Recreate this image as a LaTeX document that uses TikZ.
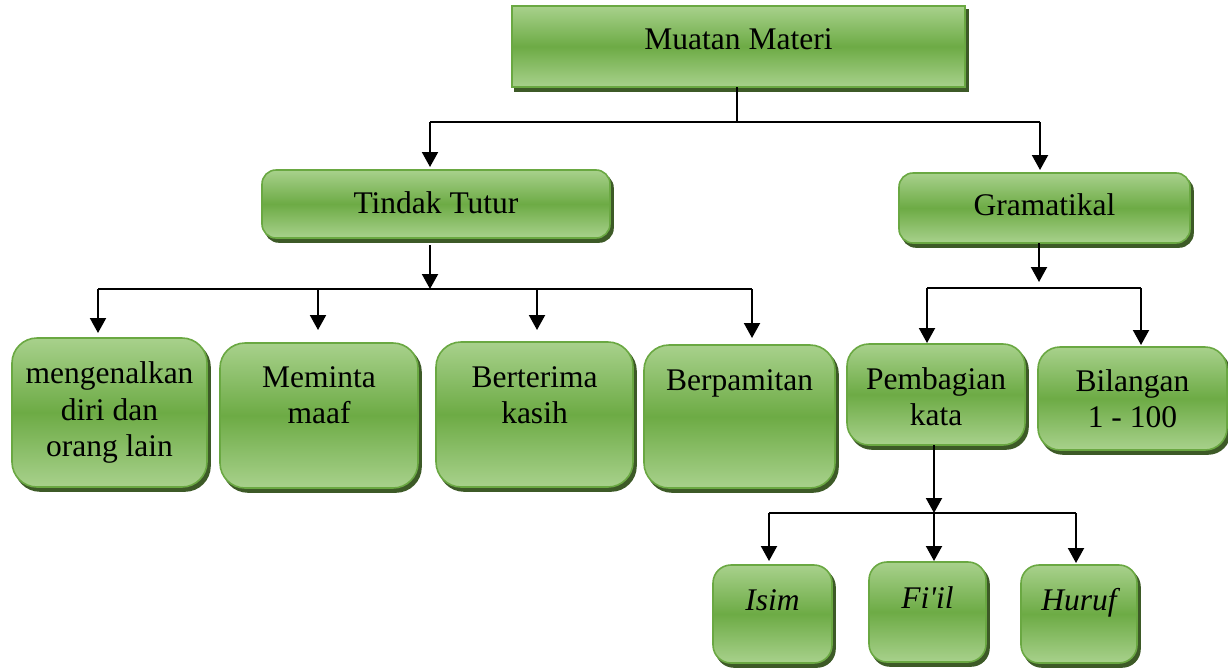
\documentclass[tikz,border=0pt]{standalone}
\usepackage{fontspec}
\setmainfont{Liberation Serif}
\newfontfamily\plainserif{Liberation Serif}
\usetikzlibrary{arrows.meta,shadows}
\definecolor{lightg}{HTML}{A8D18C}
\definecolor{midg}{HTML}{6DAB45}
\definecolor{lineg}{HTML}{6AA842}
\definecolor{shg}{HTML}{3D5A27}
\newcommand{\bxt}[4]{\begin{minipage}[c][#2pt][t]{#1pt}\centering\vspace*{#3pt}#4\end{minipage}}
\tikzset{
  gbox/.style={draw=lineg, line width=1.6pt, top color=lightg, bottom color=lightg, middle color=midg,
    inner sep=0pt, outer sep=0pt, anchor=north west,
    general shadow={shadow xshift=3pt, shadow yshift=-4pt, fill=shg, draw=shg, line width=1.6pt},
    font=\fontsize{31.5}{36.5}\selectfont},
  conn/.style={line width=2pt, black},
  arr/.style={line width=2pt, black, -{Triangle[width=16pt,length=15pt]}}
}
\begin{document}
\begin{tikzpicture}[x=1pt,y=-1pt]
\useasboundingbox (0,0) rectangle (1228,667);
% boxes
\node[gbox, minimum width=453pt, minimum height=81pt] (muatan) at (512,6) {\bxt{453}{81}{17.5}{\strut Muatan Materi}};
\node[gbox, rounded corners=14pt, minimum width=348pt, minimum height=68pt] (tindak) at (262,170) {\bxt{348}{68}{17.5}{\strut Tindak Tutur}};
\node[gbox, rounded corners=14pt, minimum width=291pt, minimum height=70pt] (gram) at (899,173) {\bxt{291}{70}{16.5}{\strut Gramatikal}};
\node[gbox, rounded corners=25pt, minimum width=195pt, minimum height=149pt] (meng) at (12,338) {\bxt{195}{149}{20}{\strut mengenalkan\\ diri dan\\ orang lain}};
\node[gbox, rounded corners=25pt, minimum width=198pt, minimum height=145pt] (minta) at (220,343) {\bxt{198}{145}{18.5}{\strut Meminta\\ maaf}};
\node[gbox, rounded corners=25pt, minimum width=197pt, minimum height=145pt] (terima) at (436,342) {\bxt{197}{145}{19.5}{\strut Berterima\\ kasih}};
\node[gbox, rounded corners=25pt, minimum width=191pt, minimum height=143pt] (pamit) at (644,345) {\bxt{191}{143}{19.5}{\strut Berpamitan}};
\node[gbox, rounded corners=22pt, minimum width=178pt, minimum height=101pt] (bagi) at (847,344) {\bxt{178}{101}{19.5}{\strut Pembagian\\ kata}};
\node[gbox, rounded corners=22pt, minimum width=189pt, minimum height=103pt] (bil) at (1038,347) {\bxt{189}{103}{18.5}{\strut Bilangan\\ 1 - 100}};
\node[gbox, rounded corners=18pt, minimum width=119pt, minimum height=98pt] (isim) at (713,565) {\bxt{119}{98}{19.5}{\strut\itshape Isim}};
\node[gbox, rounded corners=18pt, minimum width=117pt, minimum height=100pt] (fiil) at (869,562) {\bxt{117}{100}{20.5}{\strut\plainserif\itshape Fi'il}};
\node[gbox, rounded corners=18pt, minimum width=116pt, minimum height=98pt] (huruf) at (1021,565) {\bxt{116}{98}{19.5}{\strut\itshape Huruf}};
% junction coordinates
\coordinate (j1a) at (430,122);
\coordinate (j1b) at (1040,122);
\coordinate (j2c) at (430,289);
\coordinate (j2a) at (98,289);
\coordinate (j2b) at (318,289);
\coordinate (j2d) at (537,289);
\coordinate (j2e) at (752,289);
\coordinate (j3c) at (1039,288);
\coordinate (j3a) at (927,288);
\coordinate (j3b) at (1141,288);
\coordinate (j4c) at (934,513);
\coordinate (j4a) at (769,513);
\coordinate (j4b) at (1076,513);
% level 1
\draw[conn] (muatan.south -| 737,0) -- (737,122);
\draw[conn] (j1a) -- (j1b);
\draw[arr, shorten >=3pt] (j1a) -- (j1a |- tindak.north);
\draw[arr, shorten >=3pt] (j1b) -- (j1b |- gram.north);
% tindak tutur
\draw[arr, shorten <=7pt] (tindak.south -| j2c) -- (j2c);
\draw[conn] (j2a) -- (j2e);
\draw[arr, shorten >=5pt] (j2a) -- (j2a |- meng.north);
\draw[arr, shorten >=13pt] (j2b) -- (j2b |- minta.north);
\draw[arr, shorten >=12pt] (j2d) -- (j2d |- terima.north);
\draw[arr, shorten >=7pt] (j2e) -- (j2e |- pamit.north);
% gramatikal
\draw[arr, shorten >=6pt] (gram.south -| j3c) -- (j3c);
\draw[conn] (j3a) -- (j3b);
\draw[arr, shorten >=1pt] (j3a) -- (j3a |- bagi.north);
\draw[arr, shorten >=2pt] (j3b) -- (j3b |- bil.north);
% pembagian kata
\draw[arr] (bagi.south -| j4c) -- (j4c);
\draw[conn] (j4a) -- (j4b);
\draw[arr, shorten >=4pt] (j4a) -- (j4a |- isim.north);
\draw[arr, shorten >=1pt] (j4c) -- (j4c |- fiil.north);
\draw[arr, shorten >=2pt] (j4b) -- (j4b |- huruf.north);
\end{tikzpicture}
\end{document}
